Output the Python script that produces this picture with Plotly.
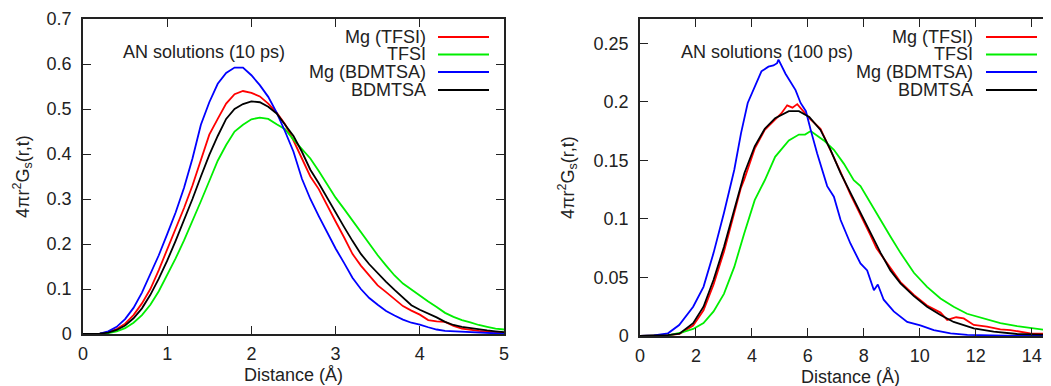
import plotly.graph_objects as go

W, H = 1051, 386
OFF = 8  # page body margin of the written html

series_names = ["Mg (TFSI)", "TFSI", "Mg (BDMTSA)", "BDMTSA"]
series_colors = ["#ff0000", "#00ee00", "#0000ff", "#000000"]

# ---------- Left panel: AN solutions (10 ps) ----------
x10 = [round(i * 0.1, 1) for i in range(51)]
mg_tfsi_10 = [0, 0, 0.001, 0.004, 0.011, 0.023, 0.042, 0.068, 0.1, 0.142, 0.187, 0.232, 0.28, 0.33, 0.385,
              0.443, 0.478, 0.512, 0.533, 0.54, 0.536, 0.528, 0.512, 0.492, 0.466, 0.43, 0.39, 0.35, 0.322,
              0.285, 0.25, 0.215, 0.178, 0.152, 0.13, 0.108, 0.093, 0.078, 0.062, 0.052, 0.043, 0.031, 0.028,
              0.027, 0.018, 0.012, 0.009, 0.007, 0.005, 0.004, 0.003]
tfsi_10 = [0, 0, 0.0005, 0.002, 0.006, 0.013, 0.025, 0.042, 0.065, 0.095, 0.13, 0.168, 0.208, 0.25, 0.295,
           0.34, 0.385, 0.42, 0.45, 0.465, 0.477, 0.481, 0.478, 0.466, 0.455, 0.432, 0.41, 0.39, 0.362,
           0.332, 0.303, 0.278, 0.252, 0.226, 0.2, 0.175, 0.152, 0.13, 0.112, 0.098, 0.085, 0.072, 0.06,
           0.047, 0.038, 0.031, 0.026, 0.02, 0.016, 0.012, 0.01]
mg_bdmtsa_10 = [0, 0, 0.001, 0.006, 0.016, 0.033, 0.058, 0.092, 0.132, 0.175, 0.222, 0.27, 0.325, 0.39,
                0.465, 0.515, 0.556, 0.58, 0.592, 0.592, 0.575, 0.553, 0.527, 0.492, 0.45, 0.405, 0.345,
                0.3, 0.262, 0.225, 0.19, 0.158, 0.125, 0.1, 0.08, 0.065, 0.051, 0.041, 0.032, 0.025, 0.021,
                0.015, 0.01, 0.007, 0.006, 0.005, 0.003, 0.002, 0.0015, 0.001, 0.0005]
bdmtsa_10 = [0, 0, 0.001, 0.003, 0.009, 0.019, 0.035, 0.057, 0.087, 0.123, 0.163, 0.207, 0.253, 0.3, 0.35,
             0.398, 0.44, 0.478, 0.5, 0.511, 0.517, 0.515, 0.505, 0.49, 0.465, 0.44, 0.405, 0.365, 0.335,
             0.302, 0.27, 0.238, 0.207, 0.178, 0.155, 0.135, 0.116, 0.098, 0.08, 0.064, 0.054, 0.046,
             0.037, 0.027, 0.02, 0.016, 0.013, 0.01, 0.008, 0.006, 0.004]

# ---------- Right panel: AN solutions (100 ps) ----------
mg_tfsi_100_x = [0, 0.5, 1.0, 1.41, 1.9, 2.27, 2.63, 3.0, 3.37, 3.6, 3.73, 4.1, 4.46, 4.83, 5.05, 5.26, 5.45,
                 5.62, 5.8, 6.05, 6.45, 6.81, 7.17, 7.52, 7.88, 8.24, 8.45, 8.6, 8.95, 9.31, 9.79, 10.26,
                 10.74, 10.98, 11.3, 11.57, 11.93, 12.4, 12.88, 13.24, 13.95, 14.67, 15]
mg_tfsi_100_y = [0, 0.0002, 0.0007, 0.0018, 0.009, 0.022, 0.044, 0.072, 0.104, 0.126, 0.134, 0.16, 0.176,
                 0.185, 0.19, 0.197, 0.195, 0.198, 0.193, 0.186, 0.177, 0.159, 0.14, 0.121, 0.104, 0.086,
                 0.075, 0.07, 0.058, 0.046, 0.035, 0.026, 0.02, 0.0137, 0.016, 0.015, 0.0094, 0.008,
                 0.0057, 0.005, 0.0023, 0.0017, 0.0015]
tfsi_100_x = [0, 0.5, 1.0, 1.5, 1.9, 2.27, 2.63, 3.0, 3.37, 3.73, 4.1, 4.46, 4.83, 5.32, 5.68, 5.9, 6.1,
              6.57, 6.93, 7.29, 7.64, 7.88, 8.24, 8.6, 8.95, 9.31, 9.79, 10.26, 10.74, 11.21, 11.69, 12.29,
              12.88, 13.48, 14.07, 14.67, 15]
tfsi_100_y = [0, 0.0001, 0.0005, 0.003, 0.006, 0.011, 0.021, 0.036, 0.059, 0.088, 0.116, 0.133, 0.153,
              0.167, 0.172, 0.172, 0.175, 0.167, 0.159, 0.147, 0.133, 0.128, 0.113, 0.099, 0.085, 0.071,
              0.054, 0.042, 0.032, 0.025, 0.019, 0.015, 0.011, 0.0085, 0.0063, 0.0046, 0.004]
mg_bdmtsa_100_x = [0, 0.5, 1.0, 1.4, 1.9, 2.27, 2.63, 3.0, 3.37, 3.61, 3.85, 4.04, 4.34, 4.59, 4.77, 4.9,
                   4.95, 5.2, 5.56, 5.74, 5.93, 6.1, 6.33, 6.69, 6.93, 7.17, 7.52, 7.88, 8.12, 8.36, 8.5,
                   8.71, 9.07, 9.55, 10.02, 10.5, 11.1, 11.7, 12.5, 13.5, 15]
mg_bdmtsa_100_y = [0, 0.0005, 0.0023, 0.0094, 0.025, 0.042, 0.071, 0.105, 0.142, 0.173, 0.199, 0.21, 0.226,
                   0.23, 0.231, 0.233, 0.236, 0.224, 0.21, 0.199, 0.192, 0.176, 0.156, 0.128, 0.119, 0.099,
                   0.079, 0.062, 0.056, 0.039, 0.044, 0.031, 0.021, 0.012, 0.009, 0.005, 0.0023, 0.001,
                   0.0003, 0, 0]
bdmtsa_100_x = [0, 0.5, 1.0, 1.41, 1.9, 2.27, 2.63, 3.0, 3.37, 3.73, 4.1, 4.46, 4.83, 5.32, 5.68, 6.05, 6.45,
                6.81, 7.17, 7.52, 7.88, 8.24, 8.6, 8.95, 9.31, 9.79, 10.26, 10.74, 11.21, 11.93, 12.64,
                13.48, 14.67, 15]
bdmtsa_100_y = [0, 0.0002, 0.0008, 0.002, 0.011, 0.025, 0.048, 0.076, 0.108, 0.139, 0.162, 0.177, 0.186,
                0.192, 0.192, 0.187, 0.176, 0.159, 0.139, 0.122, 0.105, 0.088, 0.071, 0.056, 0.045, 0.034,
                0.025, 0.018, 0.012, 0.0065, 0.0037, 0.0017, 0.001, 0.0008]

left_y = [mg_tfsi_10, tfsi_10, mg_bdmtsa_10, bdmtsa_10]
right_xy = [(mg_tfsi_100_x, mg_tfsi_100_y), (tfsi_100_x, tfsi_100_y),
            (mg_bdmtsa_100_x, mg_bdmtsa_100_y), (bdmtsa_100_x, bdmtsa_100_y)]

left_yticks = [0, 0.1, 0.2, 0.3, 0.4, 0.5, 0.6, 0.7]
left_yticklabels = ["0", "0.1", "0.2", "0.3", "0.4", "0.5", "0.6", "0.7"]
left_xticks = [0, 1, 2, 3, 4, 5]
right_yticks = [0, 0.05, 0.1, 0.15, 0.2, 0.25]
right_yticklabels = ["0", "0.05", "0.1", "0.15", "0.2", "0.25"]
right_xticks = [0, 2, 4, 6, 8, 10, 12, 14]

FONT = "Liberation Sans, Arial, sans-serif"
TXT = "#222222"
FS = 18

fig = go.Figure()
for name, col, ys in zip(series_names, series_colors, left_y):
    fig.add_trace(go.Scatter(x=x10, y=ys, mode="lines", name=name, showlegend=False,
                             line=dict(color=col, width=1.8), xaxis="x", yaxis="y"))
for name, col, (xs, ys) in zip(series_names, series_colors, right_xy):
    fig.add_trace(go.Scatter(x=xs, y=ys, mode="lines", name=name, showlegend=False,
                             line=dict(color=col, width=1.8), xaxis="x2", yaxis="y2"))

def px(xp):
    return (xp - OFF) / W

def py(yp):
    return 1 - (yp - OFF) / H

axis_common = dict(showgrid=False, zeroline=False, showline=True, linecolor="#222222", linewidth=1.5,
                   ticks="inside", ticklen=8, tickwidth=1.3, tickcolor="#222222", automargin=False,
                   tickfont=dict(family=FONT, size=FS, color=TXT))

fig.update_layout(
    template="none",
    width=W, height=H, margin=dict(l=0, r=0, t=0, b=0, pad=0),
    paper_bgcolor="white", plot_bgcolor="white",
    font=dict(family=FONT, size=FS, color=TXT),
    showlegend=False,
    xaxis=dict(domain=[px(83), px(504)], range=[0, 5], tickvals=left_xticks, mirror="ticks",
               anchor="y", ticklabelstandoff=3, **axis_common),
    yaxis=dict(domain=[py(334), py(19)], range=[0, 0.7], tickvals=left_yticks,
               ticktext=left_yticklabels, mirror="ticks",
               anchor="x", ticklabelstandoff=6, **axis_common),
    xaxis2=dict(domain=[px(640), px(1051)], range=[0, 14.69], tickvals=right_xticks, mirror="ticks",
                anchor="y2", ticklabelstandoff=3, **axis_common),
    yaxis2=dict(domain=[py(336), py(19)], range=[0, 0.2707], tickvals=right_yticks,
                ticktext=right_yticklabels, mirror=False, anchor="x2", ticklabelstandoff=6, **axis_common),
)

annotations = []
shapes = []
for cx, cy in [(293, 375), (850, 377)]:
    annotations.append(dict(x=px(cx), y=py(cy), xref="paper", yref="paper", text="Distance (Å)",
                            showarrow=False, font=dict(family=FONT, size=FS, color=TXT),
                            xanchor="center", yanchor="middle"))
for cx, cy in [(22, 177), (567, 178)]:
    annotations.append(dict(x=px(cx), y=py(cy), xref="paper", yref="paper",
                            text="4πr<sup>2</sup>G<sub>s</sub>(r,t)", textangle=-90,
                            showarrow=False, font=dict(family=FONT, size=FS, color=TXT),
                            xanchor="center", yanchor="middle"))
annotations.append(dict(x=px(204), y=py(52), xref="paper", yref="paper", text="AN solutions (10 ps)",
                        showarrow=False, font=dict(family=FONT, size=FS, color=TXT),
                        xanchor="center", yanchor="middle"))
annotations.append(dict(x=px(767), y=py(52), xref="paper", yref="paper", text="AN solutions (100 ps)",
                        showarrow=False, font=dict(family=FONT, size=FS, color=TXT),
                        xanchor="center", yanchor="middle"))
rows = [37, 54.5, 72, 90]
for text_right, l0, l1 in [(428, 438, 489), (975, 986, 1037)]:
    for name, col, ry in zip(series_names, series_colors, rows):
        annotations.append(dict(x=px(text_right), y=py(ry), xref="paper", yref="paper", text=name,
                                showarrow=False, font=dict(family=FONT, size=FS, color=TXT),
                                xanchor="right", yanchor="middle"))
        shapes.append(dict(type="line", xref="paper", yref="paper", x0=px(l0), x1=px(l1),
                           y0=py(ry), y1=py(ry), line=dict(color=col, width=2)))

fig.update_layout(annotations=annotations, shapes=shapes)
fig.write_html("out.html")
